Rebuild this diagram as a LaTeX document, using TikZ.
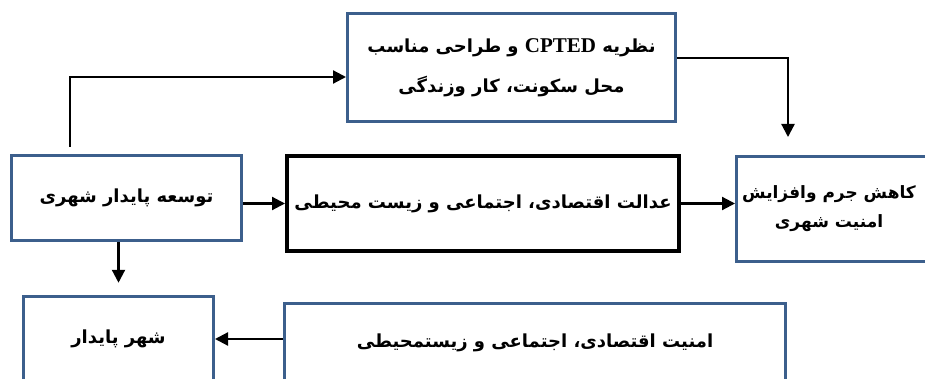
\documentclass[tikz,border=0pt]{standalone}
\usepackage{fontspec}
\setmainfont{Liberation Serif}
\newfontfamily\fa[Script=Arabic]{DejaVu Sans}
\TeXXeTstate=1
\usetikzlibrary{arrows.meta}
\definecolor{boxblue}{RGB}{60,95,140}
\newcommand{\RL}[1]{\beginR #1\endR}
\begin{document}
\begin{tikzpicture}[x=1pt,y=-1pt,
  bluebox/.style={draw=boxblue,line width=3pt,fill=white,inner sep=0pt,
    font=\fa\bfseries\fontsize{18}{24}\selectfont,align=center},
  blackbox/.style={draw=black,line width=4pt,fill=white,inner sep=0pt,
    font=\fa\bfseries\fontsize{18}{24}\selectfont,align=center},
  arr/.style={draw=black,line width=2.2pt,-{Triangle[length=13pt,width=13pt]}}]
\clip (0,0) rectangle (925,379);
\fill[white] (0,0) rectangle (925,379);
\node[bluebox,minimum width=328pt,minimum height=108pt,
  font=\fa\bfseries\fontsize{18}{40}\selectfont] (top) at (511.5,67.5)
  {\RL{نظریه {\beginL\rmfamily\bfseries\fontsize{21}{21}\selectfont CPTED\endL} و طراحی مناسب}\\\RL{محل سکونت، کار وزندگی}};
\node[bluebox,minimum width=230pt,minimum height=85pt] (left) at (126.5,198)
  {\RL{توسعه پایدار شهری}};
\node[blackbox,minimum width=392pt,minimum height=95pt] (mid) at (483,203.5)
  {\RL{عدالت اقتصادی، اجتماعی و زیست محیطی}};
\node[bluebox,minimum width=198.5pt,minimum height=105pt] (right) at (835.75,209) {};
\node[inner sep=0pt,align=center,
  font=\fa\bfseries\fontsize{17}{29}\selectfont] (righttxt) at (829,209)
  {\RL{کاهش جرم وافزایش}\\\RL{امنیت شهری}};
\node[bluebox,minimum width=190pt,minimum height=85.5pt] (bl) at (118.5,339)
  {\RL{شهر پایدار}};
\node[bluebox,minimum width=501pt,minimum height=79pt] (br) at (535,343)
  {\RL{امنیت اقتصادی، اجتماعی و زیستمحیطی}};
\coordinate (c1) at (70,147);
\coordinate (c2) at (788,58);
\draw[arr] (c1) |- ([yshift=-9.5pt]top.west);
\draw[arr,shorten >=18pt] ([yshift=9.5pt]top.east) -| (right.north -| c2);
\draw[arr] (left.east |- mid.west) -- (mid.west);
\draw[arr] (mid.east) -- (mid.east -| right.west);
\draw[arr,shorten >=12pt] (bl.north |- left.south) -- (bl.north);
\draw[arr] (br.west |- bl.east) -- (bl.east);
\end{tikzpicture}
\end{document}
